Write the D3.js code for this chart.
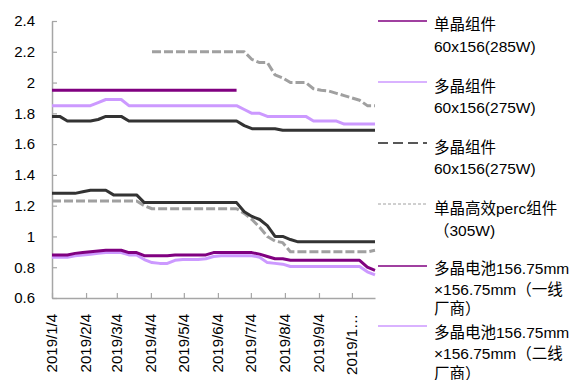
<!DOCTYPE html>
<html>
<head>
<meta charset="utf-8">
<script src="https://cdn.jsdelivr.net/npm/d3@7/dist/d3.min.js"></script>
<style>
  html, body { margin: 0; padding: 0; background: #fff; }
  svg { display: block; }
  text { font-family: "Liberation Sans", Arial, "Noto Sans CJK SC", sans-serif; fill: #000; }
</style>
</head>
<body>
<div id="chart"></div>
<script>
// Weekly price observations, 2019
const dates = [
  "2019-01-04","2019-01-11","2019-01-18","2019-01-25","2019-02-01","2019-02-08","2019-02-15","2019-02-22",
  "2019-03-01","2019-03-08","2019-03-15","2019-03-22","2019-03-29","2019-04-05","2019-04-12","2019-04-19",
  "2019-04-26","2019-05-03","2019-05-10","2019-05-17","2019-05-24","2019-05-31","2019-06-07","2019-06-14",
  "2019-06-21","2019-06-28","2019-07-05","2019-07-12","2019-07-19","2019-07-26","2019-08-02","2019-08-09",
  "2019-08-16","2019-08-23","2019-08-30","2019-09-06","2019-09-13","2019-09-20","2019-09-27","2019-10-04",
  "2019-10-11","2019-10-18","2019-10-25"
];

// Module prices
const monoModule285 = [
  1.95,1.95,1.95,1.95,1.95,1.95,1.95,1.95,1.95,1.95,1.95,1.95,1.95,1.95,1.95,1.95,
  1.95,1.95,1.95,1.95,1.95,1.95,1.95,1.95,1.95,null,null,null,null,null,null,null,
  null,null,null,null,null,null,null,null,null,null,null
];
const polyModule275 = [
  1.85,1.85,1.85,1.85,1.85,1.85,1.87,1.89,1.89,1.89,1.85,1.85,1.85,1.85,1.85,1.85,
  1.85,1.85,1.85,1.85,1.85,1.85,1.85,1.85,1.85,1.825,1.80,1.80,1.78,1.78,1.78,1.78,
  1.78,1.78,1.75,1.75,1.75,1.75,1.73,1.73,1.73,1.73,1.73
];
const polyModuleB = [
  1.78,1.78,1.75,1.75,1.75,1.75,1.76,1.78,1.78,1.78,1.75,1.75,1.75,1.75,1.75,1.75,
  1.75,1.75,1.75,1.75,1.75,1.75,1.75,1.75,1.75,1.72,1.70,1.70,1.70,1.70,1.69,1.69,
  1.69,1.69,1.69,1.69,1.69,1.69,1.69,1.69,1.69,1.69,1.69
];
const monoPercModule305 = [
  null,null,null,null,null,null,null,null,null,null,null,null,null,2.20,2.20,2.20,
  2.20,2.20,2.20,2.20,2.20,2.20,2.20,2.20,2.20,2.20,2.15,2.13,2.13,2.05,2.03,2.00,
  2.00,2.00,1.96,1.95,1.945,1.93,1.915,1.90,1.885,1.85,1.85
];

// Cell prices
const monoCell = [
  1.28,1.28,1.28,1.28,1.29,1.30,1.30,1.30,1.27,1.27,1.27,1.27,1.22,1.22,1.22,1.22,
  1.22,1.22,1.22,1.22,1.22,1.22,1.22,1.22,1.22,1.16,1.13,1.11,1.07,1.00,1.00,0.98,
  0.965,0.965,0.965,0.965,0.965,0.965,0.965,0.965,0.965,0.965,0.965
];
const monoPercCell = [
  1.23,1.23,1.23,1.23,1.23,1.23,1.23,1.23,1.23,1.23,1.23,1.23,1.20,1.18,1.18,1.18,
  1.18,1.18,1.18,1.18,1.18,1.18,1.18,1.18,1.18,1.15,1.11,1.06,1.00,0.97,0.96,0.90,
  0.90,0.90,0.90,0.90,0.90,0.90,0.90,0.90,0.90,0.90,0.91
];
const polyCellTier1 = [
  0.88,0.88,0.88,0.89,0.895,0.90,0.905,0.91,0.91,0.91,0.895,0.895,0.875,0.875,0.875,0.875,
  0.88,0.88,0.88,0.88,0.88,0.895,0.895,0.895,0.895,0.895,0.895,0.885,0.87,0.855,0.855,0.845,
  0.845,0.845,0.845,0.845,0.845,0.845,0.845,0.845,0.845,0.80,0.78
];
const polyCellTier2 = [
  0.865,0.865,0.865,0.875,0.88,0.885,0.89,0.895,0.895,0.895,0.88,0.88,0.85,0.83,0.825,0.825,
  0.845,0.85,0.85,0.85,0.855,0.87,0.875,0.875,0.875,0.875,0.875,0.865,0.83,0.825,0.82,0.805,
  0.805,0.805,0.805,0.805,0.805,0.805,0.805,0.805,0.805,0.77,0.75
];

// Axis ticks
const yTicks = [0.6, 0.8, 1.0, 1.2, 1.4, 1.6, 1.8, 2.0, 2.2, 2.4];
const yTickLabels = ["0.6","0.8","1","1.2","1.4","1.6","1.8","2","2.2","2.4"];
const xTickDates = ["2019-01-04","2019-02-04","2019-03-04","2019-04-04","2019-05-04","2019-06-04","2019-07-04","2019-08-04","2019-09-04","2019-10-04"];
const xTickLabels = ["2019/1/4","2019/2/4","2019/3/4","2019/4/4","2019/5/4","2019/6/4","2019/7/4","2019/8/4","2019/9/4","2019/1…"];

// Legend entries (text lines)
const legendLabels = [
  ["单晶组件", "60x156(285W)"],
  ["多晶组件", "60x156(275W)"],
  ["多晶组件", "60x156(275W)"],
  ["单晶高效perc组件", "（305W)"],
  ["多晶电池156.75mm", "×156.75mm（一线", "厂商）"],
  ["多晶电池156.75mm", "×156.75mm（二线", "厂商）"]
];

const W = 569, H = 380;
const parse = d3.utcParse("%Y-%m-%d");
const xDates = dates.map(parse);

const svg = d3.select("#chart").append("svg").attr("width", W).attr("height", H);

const x = d3.scaleUtc().domain([xDates[0], xDates[xDates.length - 1]]).range([52, 375]);
const y = d3.scaleLinear().domain([0.6, 2.4]).range([298, 21]);

const DARK_PURPLE = "#800080", LIGHT_PURPLE = "#cc99ff", BLACK = "#333333", GRAY = "#a0a0a0";

const series = [
  { values: polyCellTier2, color: LIGHT_PURPLE, dash: null },
  { values: polyCellTier1, color: DARK_PURPLE, dash: null },
  { values: monoPercCell, color: GRAY, dash: "9,3" },
  { values: monoCell, color: BLACK, dash: null },
  { values: monoPercModule305, color: GRAY, dash: "9,3" },
  { values: polyModuleB, color: BLACK, dash: null },
  { values: polyModule275, color: LIGHT_PURPLE, dash: null },
  { values: monoModule285, color: DARK_PURPLE, dash: null }
];

// Axes
const axisColor = "#a6a6a6";
const yAxis = d3.axisLeft(y).tickValues(yTicks).tickFormat((d, i) => yTickLabels[i])
  .tickSizeInner(-5).tickSizeOuter(0).tickPadding(17);
const gy = svg.append("g").attr("transform", "translate(52,0)").call(yAxis);
gy.select(".domain").attr("stroke", axisColor).attr("stroke-width", 1.5);
gy.selectAll(".tick line").attr("stroke", axisColor).attr("stroke-width", 1.2);
gy.selectAll(".tick text").style("font-size", "15px").attr("fill", "#000");

const xAxis = d3.axisBottom(x).tickValues(xTickDates.map(parse)).tickFormat(() => "")
  .tickSizeInner(-5).tickSizeOuter(0);
const gx = svg.append("g").attr("transform", "translate(0,298)").call(xAxis);
gx.select(".domain").attr("stroke", axisColor).attr("stroke-width", 1.5);
gx.selectAll(".tick line").attr("stroke", axisColor).attr("stroke-width", 1.2);

svg.append("g").selectAll("text").data(xTickDates).join("text")
  .attr("transform", d => `translate(${x(parse(d))},314) rotate(-90)`)
  .attr("text-anchor", "end")
  .attr("dy", "0.36em")
  .style("font-size", "15px")
  .text((d, i) => xTickLabels[i]);

// Price lines
const line = d3.line()
  .defined(d => d.v != null)
  .x(d => x(d.t))
  .y(d => y(d.v));

svg.append("g").selectAll("path").data(series).join("path")
  .attr("d", s => line(s.values.map((v, i) => ({ t: xDates[i], v }))))
  .attr("fill", "none")
  .attr("stroke", s => s.color)
  .attr("stroke-width", 3)
  .attr("stroke-linejoin", "round")
  .attr("stroke-dasharray", s => s.dash);

// Legend
const legendStyles = [
  { color: DARK_PURPLE, dash: null, width: 1.5, ly: 21, ty: [24, 46] },
  { color: LIGHT_PURPLE, dash: null, width: 1.5, ly: 82, ty: [86, 107] },
  { color: "#222222", dash: "10,5", width: 1.5, ly: 143, ty: [147, 168] },
  { color: GRAY, dash: "3,2", width: 1, ly: 204, ty: [208, 230] },
  { color: DARK_PURPLE, dash: null, width: 1.5, ly: 266, ty: [268, 289, 308] },
  { color: LIGHT_PURPLE, dash: null, width: 1.5, ly: 326, ty: [332, 353, 373] }
];

const lg = svg.append("g").selectAll("g").data(legendLabels).join("g");
lg.append("line")
  .attr("x1", 378).attr("x2", 427)
  .attr("y1", (d, i) => legendStyles[i].ly).attr("y2", (d, i) => legendStyles[i].ly)
  .attr("stroke", (d, i) => legendStyles[i].color)
  .attr("stroke-width", (d, i) => legendStyles[i].width)
  .attr("stroke-dasharray", (d, i) => legendStyles[i].dash);
lg.each(function (lines, i) {
  d3.select(this).selectAll("text").data(lines).join("text")
    .attr("x", 434)
    .attr("y", (t, j) => legendStyles[i].ty[j])
    .attr("dominant-baseline", "central")
    .style("font-size", "15.5px")
    .text(t => t);
});
</script>
</body>
</html>
